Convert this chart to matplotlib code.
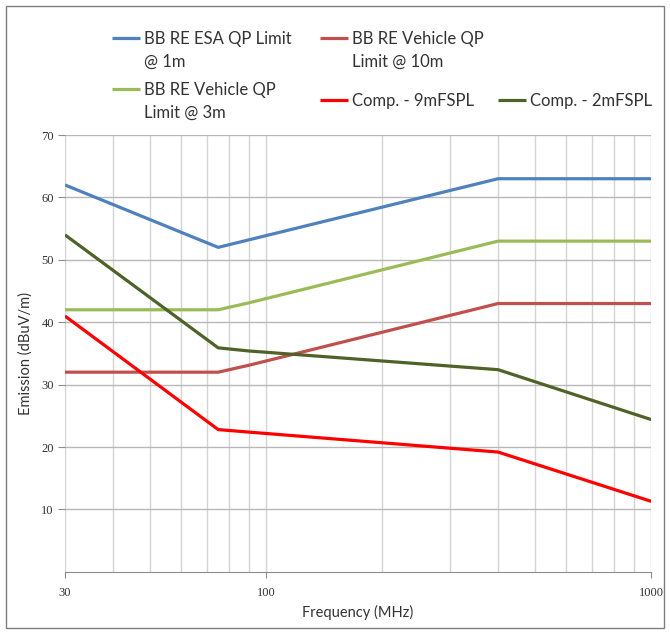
import matplotlib
matplotlib.use("Agg")
import matplotlib.pyplot as plt
from matplotlib.patches import Rectangle
from matplotlib.ticker import FixedLocator, NullFormatter

# frequency points (MHz)
freq = [30, 75, 90, 400, 1000]

veh_10m = [32, 32, 33.1, 43, 43]
veh_3m = [42, 42, 43.1, 53, 53]
comp_9m = [41, 22.8, 22.4, 19.2, 11.3]
comp_2m = [54, 35.9, 35.4, 32.4, 24.4]

# ESA limit is linear in log(f) between 75 and 400 MHz, so only the corners matter
esa_x = [30, 75, 400, 1000]
esa_1m = [62, 52, 63, 63]

series = [
    ("BB RE ESA QP Limit", "@ 1m", esa_x, esa_1m, "#4F81BD"),
    ("BB RE Vehicle QP", "Limit @ 10m", freq, veh_10m, "#C0504D"),
    ("BB RE Vehicle QP", "Limit @ 3m", freq, veh_3m, "#9BBB59"),
    ("Comp. - 9mFSPL", "", freq, comp_9m, "#FF0000"),
    ("Comp. - 2mFSPL", "", freq, comp_2m, "#4F6228"),
]

y_ticks = [10, 20, 30, 40, 50, 60, 70]
x_major = [30, 100, 1000]
x_minor = [40, 50, 60, 70, 80, 90, 200, 300, 400, 500, 600, 700, 800, 900]

sans = ["Lato", "DejaVu Sans"]
serif = ["Liberation Serif", "DejaVu Serif"]
txtcol = "#333333"

fig = plt.figure(figsize=(6.7, 6.34), dpi=100)
ax = fig.add_axes([0.097, 0.098, 0.875, 0.689])

handles = []
for lab, lab2, xs, vals, col in series:
    h, = ax.plot(xs, vals, color=col, lw=2.3, label=lab, solid_capstyle="butt")
    handles.append(h)

ax.set_xscale("log")
ax.set_xlim(30, 1000)
ax.set_ylim(0, 70)

ax.xaxis.set_major_locator(FixedLocator(x_major))
ax.xaxis.set_minor_locator(FixedLocator(x_minor))
ax.xaxis.set_minor_formatter(NullFormatter())
ax.set_xticklabels([str(v) for v in x_major], family=serif, fontsize=9)
ax.set_yticks(y_ticks)
ax.set_yticklabels([str(v) for v in y_ticks], family=serif, fontsize=9)

ax.grid(True, which="major", axis="y", color="#B8B8B8", lw=1)
ax.grid(True, which="both", axis="x", color="#D4D4D4", lw=1)
ax.set_axisbelow(True)

for s in ["top", "right", "left"]:
    ax.spines[s].set_visible(False)
ax.spines["bottom"].set_color("#8C8C8C")
ax.tick_params(axis="y", length=5, color="#8C8C8C", pad=3, labelcolor=txtcol)
ax.tick_params(axis="x", which="major", length=4, color="#8C8C8C", pad=7, labelcolor=txtcol)
ax.tick_params(axis="x", which="minor", length=0)

ax.set_xlabel("Frequency (MHz)", family=sans, fontsize=10.5, labelpad=4, color=txtcol)
ax.set_ylabel("Emission (dBuV/m)", family=sans, fontsize=10.5, labelpad=6, color=txtcol)

# legend: one box per entry, handle next to the first text line like Excel does
W, H = 670, 634
spots = [(112, 39), (320, 39), (112, 90), (320, 101), (498, 101)]
legs = []
for h, (x, y) in zip(handles, spots):
    lg = fig.legend(handles=[h], loc="center left", bbox_to_anchor=(x / W, 1 - y / H),
                    frameon=False, handlelength=1.7, handletextpad=0.2,
                    borderpad=0, borderaxespad=0,
                    prop={"family": sans, "size": 12}, labelcolor=txtcol)
    legs.append(lg)

fig.canvas.draw()
for lg, s in zip(legs, series):
    if not s[1]:
        continue
    bb = lg.get_texts()[0].get_window_extent()
    fig.text(bb.x0 / W, (bb.y0 + bb.y1) / 2 / H - 23 / H, s[1], family=sans, size=12,
             color=txtcol, va="center", ha="left")

fig.patches.append(Rectangle((0.009, 0.0095), 0.982, 0.981, transform=fig.transFigure,
                             fill=False, edgecolor="#7F7F7F", lw=1))

fig.savefig("out.png", dpi=100)
